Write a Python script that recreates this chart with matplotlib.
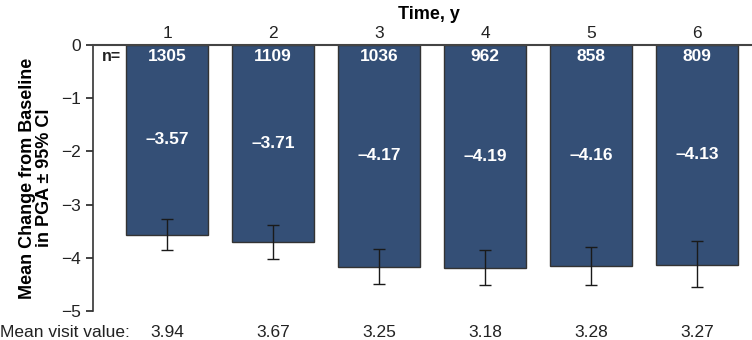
import numpy as np
import matplotlib.pyplot as plt

plt.rcParams['font.family'] = ['Liberation Sans', 'DejaVu Sans']

years = [1, 2, 3, 4, 5, 6]
mean_change = [-3.57, -3.71, -4.17, -4.19, -4.16, -4.13]
ci_upper = [-3.27, -3.39, -3.84, -3.86, -3.80, -3.69]
ci_lower = [-3.85, -4.02, -4.49, -4.52, -4.52, -4.54]
n_patients = [1305, 1109, 1036, 962, 858, 809]
visit_values = ['3.94', '3.67', '3.25', '3.18', '3.28', '3.27']

x = np.array(years)
mc = np.array(mean_change)
err = [mc - np.array(ci_lower), np.array(ci_upper) - mc]

fig = plt.figure(figsize=(7.52, 3.4), dpi=100)
ax = fig.add_axes([0.1237, 0.0853, 0.8763, 0.7823])

ax.bar(x, mc, width=0.77, color='#344f76', edgecolor='#333333', linewidth=1.0, zorder=2)
ax.errorbar(x, mc, yerr=err, fmt='none', ecolor='#1a1a1a', elinewidth=1.0,
            capsize=4.5, capthick=1.0, zorder=3)

for xi, m, n in zip(x, mc, n_patients):
    ax.text(xi, -0.22, str(n), ha='center', va='center', color='white',
            fontsize=12.5, fontweight='bold')
    ax.text(xi, m / 2, '\u2013%.2f' % abs(m), ha='center', va='center', color='white',
            fontsize=12.5, fontweight='bold')
ax.text(0.47, -0.22, 'n=', ha='center', va='center', color='#222222',
        fontsize=11.5, fontweight='bold')

for xi, v in zip(x, visit_values):
    ax.text(xi, -5.41, v, ha='center', va='center', fontsize=12.5, color='#222222')
ax.text(-0.578, -5.41, 'Mean visit value:', ha='left', va='center', fontsize=12.5,
        color='#222222')

ax.set_xlim(0.3, 6.52)
ax.set_ylim(-5, 0)
ax.xaxis.tick_top()
ax.set_xticks(x)
ax.set_xticklabels([str(y) for y in years])
ax.tick_params(axis='x', length=0, pad=3, labelsize=12.5, colors='#222222')
ax.set_yticks([0, -1, -2, -3, -4, -5])
ax.set_yticklabels(['0', '\u22121', '\u22122', '\u22123', '\u22124', '\u22125'])
ax.tick_params(axis='y', length=5, width=1.2, labelsize=12.5, colors='#222222')

ax.spines['bottom'].set_visible(False)
ax.spines['right'].set_visible(False)
ax.spines['left'].set_linewidth(1.2)
ax.spines['top'].set_linewidth(1.5)
ax.spines['left'].set_color('#333333')
ax.spines['top'].set_color('#444444')

ax.set_ylabel('Mean Change from Baseline\nin PGA \u00b1 95% CI', fontsize=13,
              fontweight='bold', labelpad=6, linespacing=1.0)
ax.set_title('Time, y', fontsize=13, fontweight='bold', pad=19, x=0.51)

fig.savefig('out.png', dpi=100)
